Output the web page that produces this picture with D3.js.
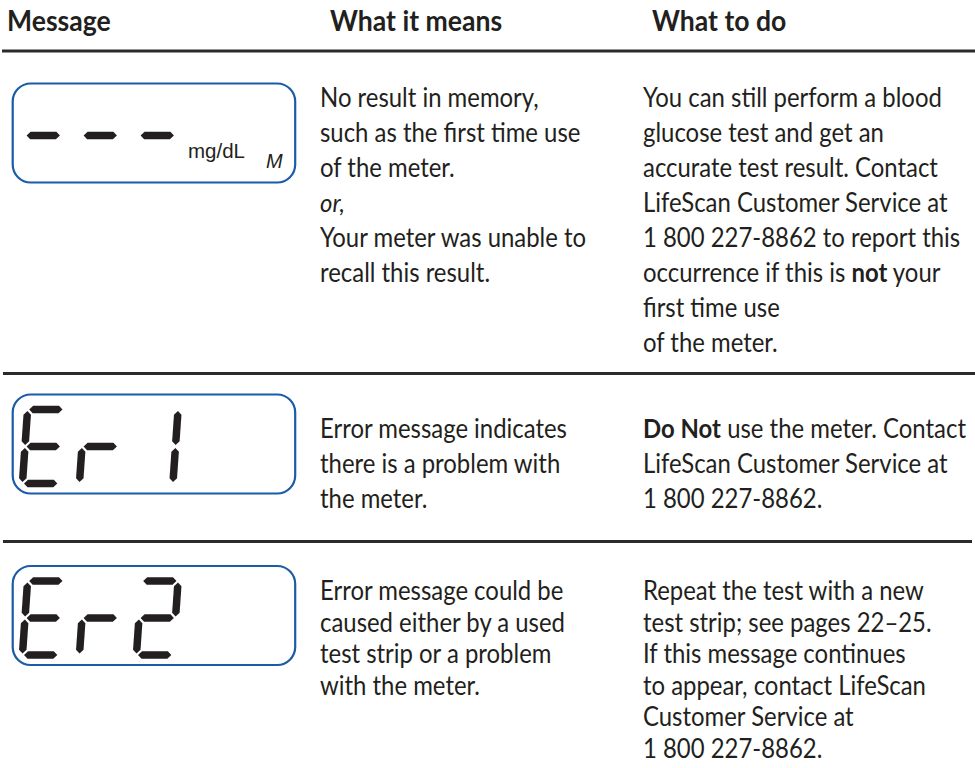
<!DOCTYPE html>
<html><head><meta charset="utf-8">
<script src="https://cdn.jsdelivr.net/npm/d3@7"></script>
<style>html,body{margin:0;padding:0;background:#fff;} svg{display:block;}</style>
</head><body>
<svg id="chart" width="975" height="768"></svg>
<script>
// ---------- data ----------
const headers = ["Message", "What it means", "What to do"];
const displayCodes = ["---", "Er1", "Er2"];
const displayUnits = ["mg/dL", "", ""];
const displayFlags = ["M", "", ""];
const meanings = [
  ["No result in memory,", "such as the first time use", "of the meter.", "_or,_", "Your meter was unable to", "recall this result."],
  ["Error message indicates", "there is a problem with", "the meter."],
  ["Error message could be", "caused either by a used", "test strip or a problem", "with the meter."]
];
const actions = [
  ["You can still perform a blood", "glucose test and get an", "accurate test result. Contact", "LifeScan Customer Service at", "1 800 227-8862 to report this", "occurrence if this is *not* your", "first time use", "of the meter."],
  ["*Do Not* use the meter. Contact", "LifeScan Customer Service at", "1 800 227-8862."],
  ["Repeat the test with a new", "test strip; see pages 22–25.", "If this message continues", "to appear, contact LifeScan", "Customer Service at", "1 800 227-8862."]
];
const segmentsByChar = {"-": "g", "E": "adefg", "r": "eg", "1": "bc", "2": "abged"};

// ---------- layout ----------
const ink = "#231f20", blue = "#1b5ca8", ruleColor = "#2a2a2a";
const bodyFont = "Lato, 'Open Sans', sans-serif";
const headerX = [7, 330, 652];
const colX = [320, 643];
const bodySize = 26, bodySX = 0.92;
const headSize = 28, headSX = 0.95;
const rules = [{y: 51, x1: 2, x2: 975}, {y: 373.5, x1: 3, x2: 975}, {y: 541.5, x1: 3, x2: 972}];
const boxTop = [83.5, 394.5, 566];
const firstBaseline = [107, 438, 600];
const lineStep = [35, 35, 31.6];
const box = {x: 12.7, w: 282.5, h: 99, r: 18};
const seg = {L: 36.5, H: 74, t: 7.5, gap: 1.6, skew: -4, top: 15};

const svg = d3.select("#chart");

// header
svg.append("g").selectAll("text").data(headers).join("text")
  .attr("transform", (d, i) => `translate(${headerX[i]},31) scale(${headSX},1)`)
  .attr("font-family", bodyFont).attr("font-weight", 700).attr("font-size", headSize)
  .attr("fill", ink).text(d => d);

// rules
svg.append("g").selectAll("line").data(rules).join("line")
  .attr("x1", d => d.x1).attr("x2", d => d.x2).attr("y1", d => d.y).attr("y2", d => d.y)
  .attr("stroke", ruleColor).attr("stroke-width", 3);

// seven segment geometry
function hSeg(x0, x1, y, t) {
  return [[x0, y], [x0 + t / 2, y - t / 2], [x1 - t / 2, y - t / 2], [x1, y], [x1 - t / 2, y + t / 2], [x0 + t / 2, y + t / 2]];
}
function vSeg(x, y0, y1, t) {
  return [[x, y0], [x + t / 2, y0 + t / 2], [x + t / 2, y1 - t / 2], [x, y1], [x - t / 2, y1 - t / 2], [x - t / 2, y0 + t / 2]];
}
function segPoints(s) {
  const {L, H: h, t, gap: g} = seg;
  const m = h / 2;
  switch (s) {
    case "a": return hSeg(g, L - g, -m, t);
    case "g": return hSeg(g, L - g, 0, t);
    case "d": return hSeg(g, L - g, m, t);
    case "f": return vSeg(0, -m + g, -g, t);
    case "e": return vSeg(0, g, m - g, t);
    case "b": return vSeg(L, -m + g, -g, t);
    case "c": return vSeg(L, g, m - g, t);
  }
}
const digitX = d3.scaleLinear().domain([0, 1]).range([25, 82]);
const line = d3.line();

displayCodes.forEach((code, r) => {
  const g = svg.append("g");
  g.append("rect").attr("x", box.x).attr("y", boxTop[r]).attr("width", box.w).attr("height", box.h)
    .attr("rx", box.r).attr("ry", box.r).attr("fill", "none").attr("stroke", blue).attr("stroke-width", 2.2);
  const midY = boxTop[r] + seg.top + seg.H / 2;
  const chars = code.split("");
  g.selectAll("g.digit").data(chars).join("g").attr("class", "digit")
    .attr("transform", (c, i) => `translate(${digitX(i)},${midY}) skewX(${seg.skew})`)
    .each(function(c) {
      d3.select(this).selectAll("path").data(segmentsByChar[c].split("")).join("path")
        .attr("d", s => line(segPoints(s)) + "Z").attr("fill", ink);
    });
  if (displayUnits[r]) {
    g.append("text").attr("x", 188).attr("y", boxTop[r] + 74)
      .attr("font-family", "'Liberation Sans', Arial, sans-serif").attr("font-size", 20.5)
      .attr("fill", ink).text(displayUnits[r]);
  }
  if (displayFlags[r]) {
    g.append("text").attr("x", 266).attr("y", boxTop[r] + 84)
      .attr("font-family", "'Liberation Sans', Arial, sans-serif").attr("font-style", "italic").attr("font-size", 20)
      .attr("fill", ink).text(displayFlags[r]);
  }
});

// text with simple markup: *bold*, _italic_
function parse(str) {
  const parts = [];
  const re = /(\*[^*]+\*|_[^_]+_)/g;
  let last = 0, m;
  while ((m = re.exec(str))) {
    if (m.index > last) parts.push({t: str.slice(last, m.index)});
    const tok = m[0];
    parts.push(tok[0] === "*" ? {t: tok.slice(1, -1), b: true} : {t: tok.slice(1, -1), i: true});
    last = m.index + tok.length;
  }
  if (last < str.length) parts.push({t: str.slice(last)});
  return parts;
}

[meanings, actions].forEach((col, c) => {
  col.forEach((lines, r) => {
    const y = d3.scaleLinear().domain([0, 1]).range([firstBaseline[r], firstBaseline[r] + lineStep[r]]);
    svg.append("g").selectAll("text").data(lines).join("text")
      .attr("transform", (d, i) => `translate(${colX[c]},${y(i)}) scale(${bodySX},1)`)
      .attr("font-family", bodyFont).attr("font-size", bodySize).attr("fill", ink)
      .attr("xml:space", "preserve")
      .each(function(d) {
        d3.select(this).selectAll("tspan").data(parse(d)).join("tspan")
          .attr("font-weight", p => p.b ? 700 : null)
          .attr("font-style", p => p.i ? "italic" : null)
          .text(p => p.t);
      });
  });
});
</script>
</body></html>
